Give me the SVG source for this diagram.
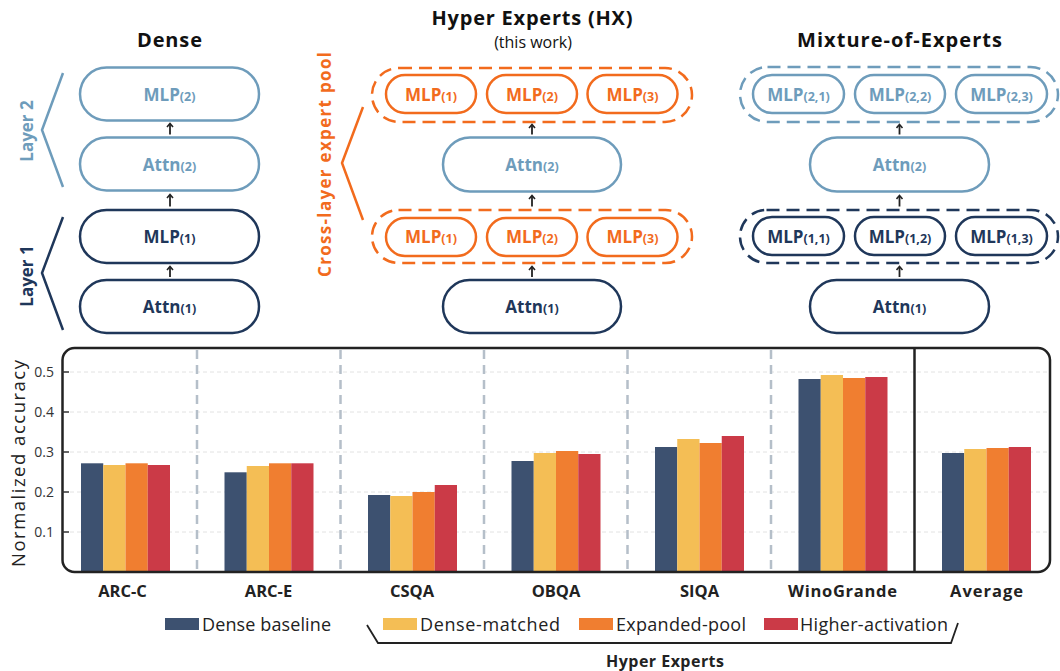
<svg xmlns="http://www.w3.org/2000/svg" width="1060" height="671" viewBox="0 0 1060 671">
<style>
text{font-family:"Open Sans","DejaVu Sans",sans-serif}
.title{font-size:20px;font-weight:700;fill:#111;text-anchor:middle}
.sub{font-size:16px;font-weight:400;fill:#111;text-anchor:middle}
.pill{fill:#fff;stroke-width:2.5}
.L{stroke:#6E9CBB}
.D{stroke:#1F375A}
.O{stroke:#F26B1D}
.pool{fill:none;stroke-width:2.5;stroke-dasharray:13 7}
.pt{font-size:17px;font-weight:700;text-anchor:middle}
.pt tspan{font-size:12.5px}
.tL{fill:#6E9CBB}
.tD{fill:#1F375A}
.tO{fill:#F26B1D}
.arrow{stroke:#222;stroke-width:1.8;fill:none;marker-end:url(#ah)}
.brk{fill:none;stroke-width:2.5;stroke-linejoin:miter}
.side{font-size:17px;font-weight:700;text-anchor:middle}
.grid{stroke:#e2e2e2;stroke-width:1;stroke-dasharray:4 3}
.sep{stroke:#B5BFC9;stroke-width:2.5;stroke-dasharray:9 6}
.tick{stroke:#333;stroke-width:1.5}
.tl{font-size:14px;fill:#333;text-anchor:end}
.xl{font-size:16.5px;font-weight:700;fill:#222;text-anchor:middle}
.lg{font-size:18px;font-weight:400;fill:#222}
.c0{fill:#3D5170}.c1{fill:#F4BE55}.c2{fill:#F07E30}.c3{fill:#CB3A47}
</style>
<defs>
<marker id="ah" markerWidth="8" markerHeight="8" refX="4" refY="4" orient="auto" markerUnits="userSpaceOnUse">
<path d="M1,1 L4.5,4 L1,7" fill="none" stroke="#222" stroke-width="1.6"/>
</marker>
</defs>

<!-- titles -->
<text class="title" x="169.5" y="47" textLength="65">Dense</text>
<text class="title" x="532" y="25" textLength="201">Hyper Experts (HX)</text>
<text class="sub" x="533" y="48">(this work)</text>
<text class="title" x="899.5" y="47" textLength="205">Mixture-of-Experts</text>

<!-- side labels and brackets -->
<g id="layer2-label">
<path class="brk L" d="M63,73 L42,130 L63,187"/>
<text class="side tL" transform="translate(33,131) rotate(-90)">Layer 2</text>
</g>
<g id="layer1-label">
<path class="brk D" d="M63,217 L42,273 L63,330"/>
<text class="side tD" transform="translate(33,276) rotate(-90)">Layer 1</text>
</g>
<g id="pool-label">
<path class="brk O" d="M363,107 L342,163 L363,220"/>
<text class="side tO" font-size="18" transform="translate(331,164.5) rotate(-90)" textLength="225">Cross-layer expert pool</text>
</g>

<!-- Dense column -->
<g id="dense-mlp2"><rect class="pill L" x="80" y="67.5" width="179" height="53" rx="26.5"/><text class="pt tL" x="169.5" y="100.5">MLP<tspan>(2)</tspan></text></g>
<g id="dense-attn2"><rect class="pill L" x="80" y="137.5" width="179" height="53" rx="26.5"/><text class="pt tL" x="169.5" y="170.5">Attn<tspan>(2)</tspan></text></g>
<g id="dense-mlp1"><rect class="pill D" x="80" y="210" width="179" height="53" rx="26.5"/><text class="pt tD" x="169.5" y="243">MLP<tspan>(1)</tspan></text></g>
<g id="dense-attn1"><rect class="pill D" x="80" y="280" width="179" height="53" rx="26.5"/><text class="pt tD" x="169.5" y="313">Attn<tspan>(1)</tspan></text></g>

<!-- HX column -->
<g id="hx-pool2">
<rect class="pool O" x="372" y="68" width="320" height="54" rx="27"/>
<g id="hx-mlp2-1"><rect class="pill O" x="386" y="75" width="90" height="38" rx="19"/><text class="pt tO" x="431" y="100.5">MLP<tspan>(1)</tspan></text></g>
<g id="hx-mlp2-2"><rect class="pill O" x="487" y="75" width="90" height="38" rx="19"/><text class="pt tO" x="532" y="100.5">MLP<tspan>(2)</tspan></text></g>
<g id="hx-mlp2-3"><rect class="pill O" x="587.5" y="75" width="90" height="38" rx="19"/><text class="pt tO" x="632.5" y="100.5">MLP<tspan>(3)</tspan></text></g>
</g>
<g id="hx-attn2"><rect class="pill L" x="443" y="137.5" width="178" height="54" rx="27"/><text class="pt tL" x="532" y="171">Attn<tspan>(2)</tspan></text></g>
<g id="hx-pool1">
<rect class="pool O" x="372" y="210" width="320" height="53" rx="26.5"/>
<g id="hx-mlp1-1"><rect class="pill O" x="386" y="218" width="90" height="38" rx="19"/><text class="pt tO" x="431" y="243">MLP<tspan>(1)</tspan></text></g>
<g id="hx-mlp1-2"><rect class="pill O" x="487" y="218" width="90" height="38" rx="19"/><text class="pt tO" x="532" y="243">MLP<tspan>(2)</tspan></text></g>
<g id="hx-mlp1-3"><rect class="pill O" x="587.5" y="218" width="90" height="38" rx="19"/><text class="pt tO" x="632.5" y="243">MLP<tspan>(3)</tspan></text></g>
</g>
<g id="hx-attn1"><rect class="pill D" x="443" y="280" width="178" height="53" rx="26.5"/><text class="pt tD" x="532" y="313">Attn<tspan>(1)</tspan></text></g>

<!-- MoE column -->
<g id="moe-pool2">
<rect class="pool L" x="740" y="67" width="318" height="55" rx="27.5"/>
<g id="moe-mlp2-1"><rect class="pill L" x="753" y="75" width="91" height="38" rx="19"/><text class="pt tL" x="798.5" y="100.5">MLP<tspan>(2,1)</tspan></text></g>
<g id="moe-mlp2-2"><rect class="pill L" x="855" y="75" width="90" height="38" rx="19"/><text class="pt tL" x="900" y="100.5">MLP<tspan>(2,2)</tspan></text></g>
<g id="moe-mlp2-3"><rect class="pill L" x="956" y="75" width="91" height="38" rx="19"/><text class="pt tL" x="1001.5" y="100.5">MLP<tspan>(2,3)</tspan></text></g>
</g>
<g id="moe-attn2"><rect class="pill L" x="810" y="137.5" width="179" height="54" rx="27"/><text class="pt tL" x="899.5" y="171">Attn<tspan>(2)</tspan></text></g>
<g id="moe-pool1">
<rect class="pool D" x="740" y="210" width="318" height="53" rx="26.5"/>
<g id="moe-mlp1-1"><rect class="pill D" x="753" y="217" width="91" height="38" rx="19"/><text class="pt tD" x="798.5" y="242.5">MLP<tspan>(1,1)</tspan></text></g>
<g id="moe-mlp1-2"><rect class="pill D" x="855" y="217" width="90" height="38" rx="19"/><text class="pt tD" x="900" y="242.5">MLP<tspan>(1,2)</tspan></text></g>
<g id="moe-mlp1-3"><rect class="pill D" x="956" y="217" width="91" height="38" rx="19"/><text class="pt tD" x="1001.5" y="242.5">MLP<tspan>(1,3)</tspan></text></g>
</g>
<g id="moe-attn1"><rect class="pill D" x="810" y="280" width="179" height="53" rx="26.5"/><text class="pt tD" x="899.5" y="313">Attn<tspan>(1)</tspan></text></g>

<!-- connectors -->
<g id="connectors">
<line class="arrow" x1="170" y1="134.5" x2="170" y2="124"/>
<line class="arrow" x1="170" y1="206.5" x2="170" y2="195"/>
<line class="arrow" x1="170" y1="277" x2="170" y2="267"/>
<line class="arrow" x1="532" y1="134.5" x2="532" y2="125"/>
<line class="arrow" x1="532" y1="206.5" x2="532" y2="196"/>
<line class="arrow" x1="532" y1="277" x2="532" y2="267"/>
<line class="arrow" x1="899.5" y1="134.5" x2="899.5" y2="125"/>
<line class="arrow" x1="899.5" y1="206.5" x2="899.5" y2="196"/>
<line class="arrow" x1="899.5" y1="277" x2="899.5" y2="267"/>
</g>

<!-- chart -->
<g id="chart">
<g id="grid">
<line class="grid" x1="70" y1="372" x2="1048" y2="372"/>
<line class="grid" x1="70" y1="412" x2="1048" y2="412"/>
<line class="grid" x1="70" y1="452" x2="1048" y2="452"/>
<line class="grid" x1="70" y1="492" x2="1048" y2="492"/>
<line class="grid" x1="70" y1="532" x2="1048" y2="532"/>
</g>
<g id="separators">
<line class="sep" x1="197" y1="350" x2="197" y2="571"/>
<line class="sep" x1="340.5" y1="350" x2="340.5" y2="571"/>
<line class="sep" x1="484" y1="350" x2="484" y2="571"/>
<line class="sep" x1="627.5" y1="350" x2="627.5" y2="571"/>
<line class="sep" x1="771" y1="350" x2="771" y2="571"/>
</g>
<g id="bars">
<rect class="c0" x="81" y="463.3" width="22.25" height="108.7"/>
<rect class="c1" x="103.25" y="465" width="22.25" height="107"/>
<rect class="c2" x="125.5" y="463.3" width="22.25" height="108.7"/>
<rect class="c3" x="147.75" y="465" width="22.25" height="107"/>

<rect class="c0" x="224.5" y="472.3" width="22.25" height="99.7"/>
<rect class="c1" x="246.75" y="466" width="22.25" height="106"/>
<rect class="c2" x="269" y="463.3" width="22.25" height="108.7"/>
<rect class="c3" x="291.25" y="463.3" width="22.25" height="108.7"/>

<rect class="c0" x="368" y="495" width="22.25" height="77"/>
<rect class="c1" x="390.25" y="496" width="22.25" height="76"/>
<rect class="c2" x="412.5" y="492" width="22.25" height="80"/>
<rect class="c3" x="434.75" y="485" width="22.25" height="87"/>

<rect class="c0" x="511.5" y="461" width="22.25" height="111"/>
<rect class="c1" x="533.75" y="453" width="22.25" height="119"/>
<rect class="c2" x="556" y="451" width="22.25" height="121"/>
<rect class="c3" x="578.25" y="454" width="22.25" height="118"/>

<rect class="c0" x="655" y="447" width="22.25" height="125"/>
<rect class="c1" x="677.25" y="439" width="22.25" height="133"/>
<rect class="c2" x="699.5" y="443" width="22.25" height="129"/>
<rect class="c3" x="721.75" y="436" width="22.25" height="136"/>

<rect class="c0" x="798.5" y="379" width="22.25" height="193"/>
<rect class="c1" x="820.75" y="375" width="22.25" height="197"/>
<rect class="c2" x="843" y="378" width="22.25" height="194"/>
<rect class="c3" x="865.25" y="377" width="22.25" height="195"/>

<rect class="c0" x="942" y="453" width="22.25" height="119"/>
<rect class="c1" x="964.25" y="449" width="22.25" height="123"/>
<rect class="c2" x="986.5" y="448" width="22.25" height="124"/>
<rect class="c3" x="1008.75" y="447" width="22.25" height="125"/>
</g>
<line x1="914.5" y1="348" x2="914.5" y2="572" stroke="#222" stroke-width="2.5"/>
<rect x="62.5" y="348" width="987.5" height="224" rx="12" fill="none" stroke="#222" stroke-width="2.5"/>
<g id="yaxis">
<line class="tick" x1="62" y1="372" x2="69" y2="372"/>
<line class="tick" x1="62" y1="412" x2="69" y2="412"/>
<line class="tick" x1="62" y1="452" x2="69" y2="452"/>
<line class="tick" x1="62" y1="492" x2="69" y2="492"/>
<line class="tick" x1="62" y1="532" x2="69" y2="532"/>
<text class="tl" x="54" y="377">0.5</text>
<text class="tl" x="54" y="417">0.4</text>
<text class="tl" x="54" y="457">0.3</text>
<text class="tl" x="54" y="497">0.2</text>
<text class="tl" x="54" y="537">0.1</text>
<text transform="translate(25,463.5) rotate(-90)" font-size="18.5" fill="#222" text-anchor="middle" textLength="207">Normalized accuracy</text>
</g>
<g id="xlabels">
<text class="xl" x="122.5" y="597">ARC-C</text>
<text class="xl" x="268.5" y="597">ARC-E</text>
<text class="xl" x="412" y="597">CSQA</text>
<text class="xl" x="556" y="597">OBQA</text>
<text class="xl" x="699.5" y="597">SIQA</text>
<text class="xl" x="842.5" y="597" textLength="109">WinoGrande</text>
<text class="xl" x="986.5" y="597" textLength="73">Average</text>
</g>
</g>

<!-- legend -->
<g id="legend">
<rect class="c0" x="165" y="618" width="34" height="12"/>
<text class="lg" x="202" y="631" textLength="129">Dense baseline</text>
<rect class="c1" x="383" y="618" width="34" height="12"/>
<text class="lg" x="420" y="631" textLength="140">Dense-matched</text>
<rect class="c2" x="579" y="618" width="34" height="12"/>
<text class="lg" x="616" y="631" textLength="130">Expanded-pool</text>
<rect class="c3" x="764" y="618" width="34" height="12"/>
<text class="lg" x="800" y="631" textLength="148">Higher-activation</text>
<path d="M367,625 L378,643 L951,643 L958,623" fill="none" stroke="#222" stroke-width="1.8"/>
<text x="665" y="667" font-size="16" font-weight="700" fill="#222" text-anchor="middle" textLength="118">Hyper Experts</text>
</g>
</svg>
